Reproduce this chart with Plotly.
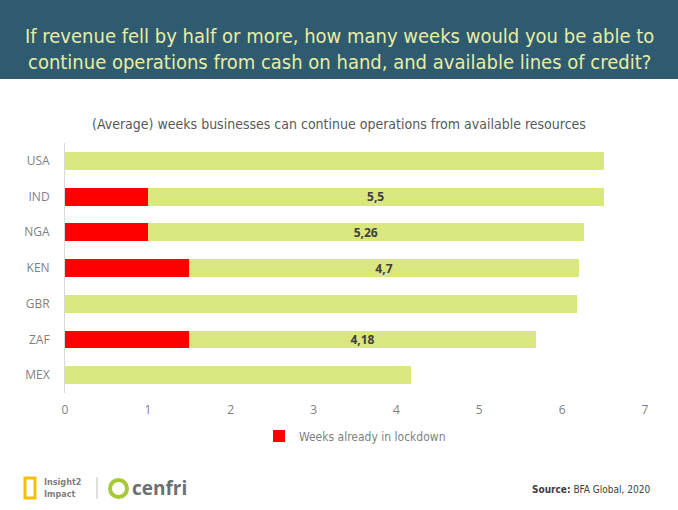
import plotly.graph_objects as go

countries = ["USA", "IND", "NGA", "KEN", "GBR", "ZAF", "MEX"]
lockdown_weeks = [0, 1, 1, 1.5, 0, 1.5, 0]
remaining_weeks = [6.5, 5.5, 5.26, 4.7, 6.18, 4.18, 4.17]
remaining_labels = ["", "5,5", "5,26", "4,7", "", "4,18", ""]
x_ticks = [0, 1, 2, 3, 4, 5, 6, 7]

W, H = 678, 510
L, R, T, B = 65, 33, 143, 117
ph = H - T - B
pw = W - L - R


def py(pix):
    return 1 - (pix - T) / ph


def px(pix):
    return (pix - L) / pw


GREEN = "#dae67e"
RED = "#ff0000"
GREY = "#7f7f7f"
NARROW = "DejaVu Sans Condensed, Roboto, sans-serif"

fig = go.Figure()
fig.add_trace(go.Bar(
    y=countries, x=lockdown_weeks, orientation="h",
    name="Weeks already in lockdown", marker=dict(color=RED, line=dict(width=0)),
    width=0.5, hoverinfo="x+y",
))
fig.add_trace(go.Bar(
    y=countries, x=remaining_weeks, orientation="h",
    name="Weeks remaining", marker=dict(color=GREEN, line=dict(width=0)),
    width=0.5, showlegend=False,
    text=remaining_labels, textposition="inside", insidetextanchor="middle",
    constraintext="none",
    textfont=dict(family="Open Sans, sans-serif", size=12, color="#404040", weight="bold"),
    textangle=0, hoverinfo="x+y",
))

fig.update_layout(
    width=W, height=H,
    margin=dict(l=L, r=R, t=T, b=B),
    paper_bgcolor="white", plot_bgcolor="white",
    barmode="stack",
    bargap=0.5,
    font=dict(family="Open Sans, sans-serif", color=GREY),
    showlegend=True,
    legend=dict(
        orientation="h", x=0.5, xanchor="center", y=py(436), yanchor="middle",
        font=dict(family=NARROW, size=12, color=GREY),
        itemwidth=30, traceorder="normal",
    ),
    xaxis=dict(
        range=[0, 7], tickvals=x_ticks, ticktext=[str(v) for v in x_ticks],
        showgrid=False, zeroline=False, showline=False, ticks="",
        tickfont=dict(size=12, color=GREY, family="Open Sans, sans-serif"),
        ticklabelstandoff=8, fixedrange=True,
    ),
    yaxis=dict(
        categoryorder="array", categoryarray=countries, autorange="reversed",
        showgrid=False, zeroline=False, showline=True, linecolor="#d9d9d9", linewidth=1,
        ticks="", ticklabelstandoff=12,
        tickfont=dict(size=12, color=GREY, family="Open Sans, sans-serif"),
        fixedrange=True,
    ),
    shapes=[
        dict(type="rect", xref="paper", yref="paper", x0=px(0), x1=px(W), y0=py(0), y1=py(79),
             fillcolor="#2e5b70", line=dict(width=0), layer="below"),
        dict(type="line", xref="paper", yref="paper", x0=px(97), x1=px(97), y0=py(477), y1=py(499),
             line=dict(color="#bfbfbf", width=1)),
        dict(type="rect", xref="paper", yref="paper", x0=px(25), x1=px(35), y0=py(478), y1=py(498),
             line=dict(color="#f2c200", width=3), fillcolor="white"),
        dict(type="circle", xref="paper", yref="paper", x0=px(110), x1=px(127), y0=py(480), y1=py(497),
             line=dict(color="#a6c93a", width=4), fillcolor="white"),
    ],
    annotations=[
        dict(xref="paper", yref="paper", x=px(W / 2), y=py(49), xanchor="center", yanchor="middle",
             text="If revenue fell by half or more, how many weeks would you be able to<br>continue operations from cash on hand, and available lines of credit?",
             showarrow=False, align="center",
             font=dict(family=NARROW, size=20, color="#e8eda4")),
        dict(xref="paper", yref="paper", x=px(W / 2), y=py(124), xanchor="center", yanchor="middle",
             text="(Average) weeks businesses can continue operations from available resources",
             showarrow=False,
             font=dict(family=NARROW, size=14, color="#595959")),
        dict(xref="paper", yref="paper", x=px(42), y=py(488), xanchor="left", yanchor="middle",
             text="<b>Insight2<br>Impact</b>", showarrow=False, align="left",
             font=dict(family=NARROW, size=9, color="#7f7f7f")),
        dict(xref="paper", yref="paper", x=px(130), y=py(488), xanchor="left", yanchor="middle",
             text="<b>cenfri</b>", showarrow=False,
             font=dict(family="Open Sans, sans-serif", size=19, color="#6d6e71")),
        dict(xref="paper", yref="paper", x=px(652), y=py(489), xanchor="right", yanchor="middle",
             text="<b>Source:</b> BFA Global, 2020", showarrow=False,
             font=dict(family=NARROW, size=10, color="#404040")),
    ],
)

fig.write_html("out.html", config={"displayModeBar": False},
               post_script="document.body.style.margin='0';document.body.style.padding='0';")
